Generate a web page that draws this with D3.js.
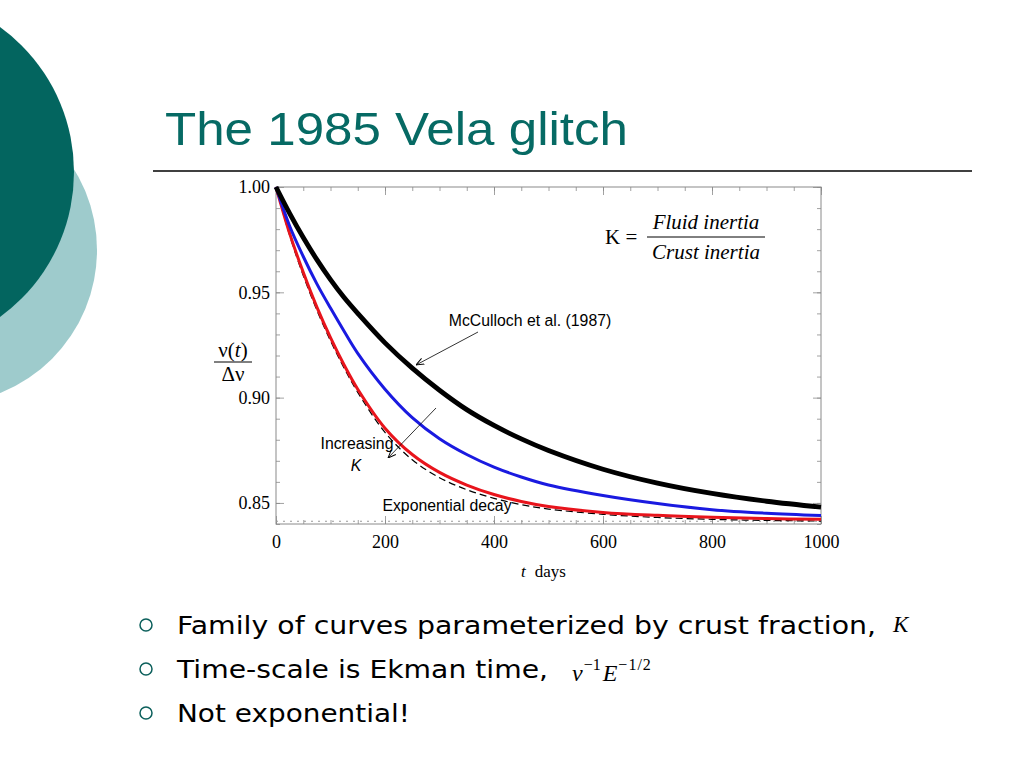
<!DOCTYPE html>
<html><head><meta charset="utf-8">
<script src="https://cdn.jsdelivr.net/npm/d3@7/dist/d3.min.js"></script>
<style>body{margin:0;background:#fff}svg{display:block}</style>
</head><body>
<svg id="c" width="1024" height="768"></svg>
<script>
// ---- data ----
const days = [0,25,50,75,100,125,150,200,250,300,350,400,450,500,600,700,800,900,1000];
const mcculloch = [1.000,0.9875,0.976,0.9655,0.956,0.9475,0.940,0.926,0.914,0.9035,0.8943,0.8868,0.8804,0.8749,0.866,0.8594,0.8545,0.8508,0.848];
const blueK     = [1.000,0.9815,0.967,0.954,0.9425,0.9315,0.921,0.904,0.8905,0.8805,0.873,0.867,0.8623,0.8585,0.8535,0.8497,0.8468,0.8451,0.844];
const redK      = [1.000,0.978,0.9595,0.943,0.9285,0.9155,0.904,0.8855,0.873,0.8645,0.8585,0.854,0.8507,0.8483,0.8455,0.8441,0.8432,0.8426,0.8422];
const expDecay  = [1.000,0.977,0.958,0.9415,0.927,0.914,0.9025,0.8835,0.8705,0.862,0.8563,0.8522,0.8492,0.8471,0.8446,0.8431,0.8422,0.8417,0.8414];
const asymptote = 0.8413;
const xTickLabels = [0,200,400,600,800,1000];
const yTickLabels = [0.85,0.90,0.95,1.00];

const svg = d3.select("#c");

// background circles
svg.append("circle").attr("cx",-57).attr("cy",250).attr("r",154).attr("fill","#9ecbcc");
svg.append("circle").attr("cx",-105).attr("cy",172).attr("r",179).attr("fill","#03655f");

// title
svg.append("text").attr("x",165).attr("y",145).attr("font-family","Liberation Sans, Arial, sans-serif")
  .attr("font-size",46).attr("fill","#066a64").attr("textLength",463).attr("lengthAdjust","spacingAndGlyphs")
  .text("The 1985 Vela glitch");
svg.append("line").attr("x1",153).attr("x2",972).attr("y1",171).attr("y2",171).attr("stroke","#000").attr("stroke-width",1.5);

// scales
const x = d3.scaleLinear().domain([0,1000]).range([276,821]);
const y = d3.scaleLinear().domain([0.84,1.0]).range([524,187]);

const g = svg.append("g");
// frame
g.append("rect").attr("x",x(0)).attr("y",y(1)).attr("width",x(1000)-x(0)).attr("height",y(0.84)-y(1))
  .attr("fill","none").attr("stroke","#8a8a8a").attr("stroke-width",1);

const minorX = d3.range(0,1001,50), majorX = d3.range(0,1001,200);
const minorY = d3.range(84,101).map(d=>d/100), majorY = [0.85,0.90,0.95,1.00];
function ticks(axisFn, scale, vals, size, tr){
  const a = g.append("g").attr("transform",tr).call(axisFn(scale).tickValues(vals).tickSize(size).tickFormat(""));
  a.select(".domain").remove();
  a.selectAll("line").attr("stroke","#8a8a8a").attr("stroke-width",0.8);
}
ticks(d3.axisBottom, x, minorX, -4, `translate(0,${y(0.84)})`);
ticks(d3.axisBottom, x, majorX, -8, `translate(0,${y(0.84)})`);
ticks(d3.axisTop, x, minorX, -4, `translate(0,${y(1)})`);
ticks(d3.axisTop, x, majorX, -8, `translate(0,${y(1)})`);
ticks(d3.axisLeft, y, minorY, -4, `translate(${x(0)},0)`);
ticks(d3.axisLeft, y, majorY, -8, `translate(${x(0)},0)`);
ticks(d3.axisRight, y, minorY, -4, `translate(${x(1000)},0)`);
ticks(d3.axisRight, y, majorY, -8, `translate(${x(1000)},0)`);

// tick labels
const xa = g.append("g").attr("transform",`translate(0,${y(0.84)})`)
  .call(d3.axisBottom(x).tickValues(xTickLabels).tickSize(0).tickPadding(11).tickFormat(d3.format("d")));
xa.select(".domain").remove();
xa.selectAll("text").attr("font-family","Liberation Serif, Times New Roman, serif").attr("font-size",18).attr("fill","#000");
const ya = g.append("g").attr("transform",`translate(${x(0)},0)`)
  .call(d3.axisLeft(y).tickValues(yTickLabels).tickSize(0).tickPadding(6).tickFormat(d3.format(".2f")));
ya.select(".domain").remove();
ya.selectAll("text").attr("font-family","Liberation Serif, Times New Roman, serif").attr("font-size",18).attr("fill","#000");

// asymptote dotted line
g.append("line").attr("x1",x(0)).attr("x2",x(1000)).attr("y1",y(asymptote)).attr("y2",y(asymptote))
  .attr("stroke","#999").attr("stroke-width",1).attr("stroke-dasharray","2,5");

// curves
const line = d3.line().x((d,i)=>x(days[i])).y(d=>y(d)).curve(d3.curveCatmullRom.alpha(0.5));
g.append("path").datum(expDecay).attr("d",line).attr("fill","none").attr("stroke","#000").attr("stroke-width",1.2).attr("stroke-dasharray","7,4");
g.append("path").datum(redK).attr("d",line).attr("fill","none").attr("stroke","#e8141c").attr("stroke-width",3);
g.append("path").datum(blueK).attr("d",line).attr("fill","none").attr("stroke","#1a1ae0").attr("stroke-width",3);
g.append("path").datum(mcculloch).attr("d",line).attr("fill","none").attr("stroke","#000").attr("stroke-width",4.8);

// arrows
svg.append("defs").append("marker").attr("id","ah").attr("viewBox","0 0 10 10").attr("refX",10).attr("refY",5)
  .attr("markerWidth",8).attr("markerHeight",8).attr("orient","auto").attr("markerUnits","userSpaceOnUse")
  .append("path").attr("d","M0,1 L10,5 L0,9").attr("fill","none").attr("stroke","#000").attr("stroke-width",1.2);
svg.append("line").attr("x1",478).attr("y1",332).attr("x2",416).attr("y2",365).attr("stroke","#000").attr("stroke-width",0.8).attr("marker-end","url(#ah)");
svg.append("line").attr("x1",436).attr("y1",408).attr("x2",388).attr("y2",458).attr("stroke","#000").attr("stroke-width",0.8).attr("marker-end","url(#ah)");

const sans = "Liberation Sans, Arial, sans-serif";
const afs = 15.8;
svg.append("text").attr("x",530).attr("y",326).attr("text-anchor","middle").attr("font-family",sans).attr("font-size",afs).text("McCulloch et al. (1987)");
svg.append("text").attr("x",357).attr("y",449).attr("text-anchor","middle").attr("font-family",sans).attr("font-size",afs).text("Increasing");
svg.append("text").attr("x",356).attr("y",471).attr("text-anchor","middle").attr("font-family",sans).attr("font-size",afs).attr("font-style","italic").text("K");
svg.append("text").attr("x",447).attr("y",511).attr("text-anchor","middle").attr("font-family",sans).attr("font-size",afs).text("Exponential decay");

// formula
const serif = "Liberation Serif, Times New Roman, serif";
svg.append("text").attr("x",605).attr("y",244).attr("font-family",serif).attr("font-size",21).text("K =");
svg.append("text").attr("x",706).attr("y",229).attr("text-anchor","middle").attr("font-family",serif).attr("font-size",21).attr("font-style","italic").text("Fluid  inertia");
svg.append("line").attr("x1",647).attr("x2",765).attr("y1",237).attr("y2",237).attr("stroke","#000").attr("stroke-width",1);
svg.append("text").attr("x",706).attr("y",259).attr("text-anchor","middle").attr("font-family",serif).attr("font-size",21).attr("font-style","italic").text("Crust  inertia");

// y label
const yl = svg.append("text").attr("x",233).attr("y",357).attr("text-anchor","middle").attr("font-family",serif).attr("font-size",21);
yl.append("tspan").text("ν(");
yl.append("tspan").attr("font-style","italic").text("t");
yl.append("tspan").text(")");
svg.append("line").attr("x1",214).attr("x2",252).attr("y1",362).attr("y2",362).attr("stroke","#000").attr("stroke-width",1);
svg.append("text").attr("x",233).attr("y",381).attr("text-anchor","middle").attr("font-family",serif).attr("font-size",21).text("Δν");

// x label
const xl = svg.append("text").attr("x",521).attr("y",577).attr("font-family",serif).attr("font-size",17);
xl.append("tspan").attr("font-style","italic").text("t");
xl.append("tspan").attr("dx",9).text("days");

// bullets
const bullets = [
  {y:634, text:"Family of curves parameterized by crust fraction,", w:699},
  {y:678, text:"Time-scale is Ekman time,", w:371},
  {y:722, text:"Not exponential!", w:233}
];
const bfont = "DejaVu Sans, Verdana, sans-serif";
bullets.forEach(b=>{
  svg.append("circle").attr("cx",146).attr("cy",b.y-9).attr("r",6).attr("fill","none").attr("stroke","#0b5f5b").attr("stroke-width",1.5);
  svg.append("text").attr("x",177).attr("y",b.y).attr("font-family",bfont).attr("font-size",25)
    .attr("textLength",b.w).attr("lengthAdjust","spacingAndGlyphs").text(b.text);
});
svg.append("text").attr("x",893).attr("y",632).attr("font-family",serif).attr("font-size",23).attr("font-style","italic").text("K");
const m = svg.append("text").attr("x",572).attr("y",681).attr("font-family",serif).attr("font-size",24).attr("font-style","italic");
m.append("tspan").text("ν");
m.append("tspan").attr("font-size",16).attr("dy",-11).attr("dx",1).attr("font-style","normal").text("−1");
m.append("tspan").attr("dy",11).attr("dx",2).text("E");
m.append("tspan").attr("font-size",16).attr("dy",-11).attr("dx",1).attr("font-style","normal").attr("letter-spacing",1).text("−1/2");
</script>
</body></html>
